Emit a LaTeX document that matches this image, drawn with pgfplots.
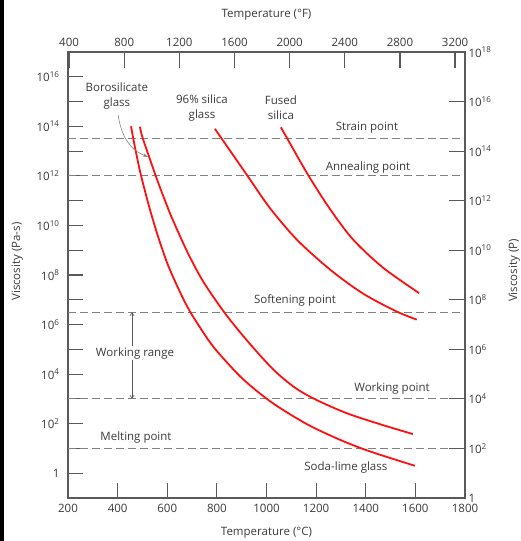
\documentclass[border=0pt]{standalone}
\usepackage{fontspec}
\setmainfont{Open Sans}
\usepackage{pgfplots}
\pgfplotsset{compat=1.18}
\usetikzlibrary{arrows.meta}
\definecolor{axgray}{HTML}{5A5A5A}
\definecolor{dashgray}{HTML}{808080}
\definecolor{txt}{HTML}{3A3A3A}
\definecolor{cred}{HTML}{FF1010}
\newcommand{\tp}[1]{10\textsuperscript{#1}}
\begin{document}
\begin{tikzpicture}
\path[use as bounding box] (-68pt,-43pt) rectangle (453pt,498pt);
\fill[black] (-68pt,-43pt) rectangle (-64pt,498pt);
\begin{axis}[
  scale only axis, width=397pt, height=446pt,
  at={(0pt,0pt)}, anchor=south west,
  xmin=200, xmax=1800, ymode=log, ymin=0.1, ymax=1e17,
  xtick={200,400,600,800,1000,1200,1400,1600,1800},
  xticklabels={200,400,600,800,1000,1200,1400,1600,1800},
  ytick={1,1e1,1e2,1e3,1e4,1e5,1e6,1e7,1e8,1e9,1e10,1e11,1e12,1e13,1e14,1e15,1e16},
  yticklabels={1,,\tp{2},,\tp{4},,\tp{6},,\tp{8},,\tp{10},,\tp{12},,\tp{14},,\tp{16}},
  xtick pos=left, ytick pos=left,
  tick align=inside, major tick length=15pt,
  minor tick style={draw=none},
  axis line style={axgray, line width=1.4pt},
  major tick style={axgray, line width=1.2pt},
  ticklabel style={font=\fontsize{11.5}{13}\selectfont, text=txt},
  xticklabel style={yshift=-3pt},
  yticklabel style={xshift=-5pt},
  xlabel={Temperature (°C)},
  ylabel={Viscosity (Pa-s)},
  label style={font=\fontsize{11.5}{13}\selectfont, text=txt},
  xlabel style={at={(axis description cs:0.5,-0.0785)}, anchor=center},
  ylabel style={at={(axis description cs:-0.128,0.53)}, anchor=center},
  clip=false,
]
% reference lines
\addplot[dashgray, line width=0.9pt, dash pattern=on 8pt off 4pt] coordinates {(200,3.16e13) (1800,3.16e13)};
\addplot[dashgray, line width=0.9pt, dash pattern=on 8pt off 4pt] coordinates {(200,1e12) (1800,1e12)};
\addplot[dashgray, line width=0.9pt, dash pattern=on 8pt off 4pt] coordinates {(200,3.16e6) (1800,3.16e6)};
\addplot[dashgray, line width=0.9pt, dash pattern=on 8pt off 4pt] coordinates {(200,1000) (1800,1000)};
\addplot[dashgray, line width=0.9pt, dash pattern=on 8pt off 4pt] coordinates {(200,10) (1800,10)};
% soda-lime glass
\addplot[cred, line width=1.8pt, smooth] coordinates {
(454,1e14) (470,1.41e13) (490,1.58e12) (510,2.51e11) (530,4.47e10) (563,3.55e9)
(603,2.51e8) (651,2.09e7) (692,3.31e6) (764,2.51e5) (813,6.03e4) (905,6.31e3)
(1022,708) (1163,95.5) (1296,22.4) (1417,7.59) (1598,2.0)};
% borosilicate glass
\addplot[cred, line width=1.8pt, smooth] coordinates {
(490,9.55e13) (502,3.16e13) (559,7.08e11) (595,7.94e10) (619,2.0e10) (680,8.91e8)
(744,5.62e7) (833,2.82e6) (922,2.24e5) (1026,1.58e4) (1115,2.82e3) (1203,891)
(1324,263) (1457,95.5) (1590,38)};
% 96% silica glass
\addplot[cred, line width=1.8pt, smooth] coordinates {
(792,7.94e13) (821,3.02e13) (925,9.55e11) (1014,5.01e10) (1123,2.63e9)
(1256,1.66e8) (1389,1.78e7) (1526,3.31e6) (1606,1.58e6)};
% fused silica
\addplot[cred, line width=1.8pt, smooth] coordinates {
(1058,9.12e13) (1083,3.31e13) (1167,1.12e12) (1256,4.57e10) (1349,2.69e9)
(1469,2.0e8) (1615,1.86e7)};
% annotations
\begin{scope}[every node/.style={font=\fontsize{11.5}{15.5}\selectfont, text=txt, align=center}]
\node at (axis cs:397,1.7e15) {Borosilicate\\glass};
\node at (axis cs:740,5.6e14) {96\% silica\\glass};
\node at (axis cs:1058,5.6e14) {Fused\\silica};
\node at (axis cs:1405,8.7e13) {Strain point};
\node at (axis cs:1409,2.1e12) {Annealing point};
\node at (axis cs:1115,9.8e6) {Softening point};
\node at (axis cs:1506,2.7e3) {Working point};
\node at (axis cs:474,28) {Melting point};
\node at (axis cs:1320,1.74) {Soda-lime glass};
\draw[axgray, line width=0.7pt, {Straight Barb[length=3pt,width=4pt]}-{Straight Barb[length=3pt,width=4pt]}] (axis cs:458,3.16e6) -- (axis cs:458,1000);
\node[fill=white, inner sep=1.5pt] at (axis cs:470,7.1e4) {Working range};
\end{scope}
\draw[gray, line width=0.6pt, -{Stealth[length=5pt,width=3.5pt]}] (axis cs:402,2.9e14) .. controls (axis cs:412,6e13) and (axis cs:440,1.2e13) .. (axis cs:522,5.9e12);
\end{axis}
\begin{axis}[
  scale only axis, width=397pt, height=446pt,
  at={(0pt,0pt)}, anchor=south west,
  xmin=392, xmax=3272, ymode=log, ymin=1, ymax=1e18,
  axis x line*=top, axis y line*=right,
  xtick={400,800,1200,1600,2000,2400,2800,3200},
  xticklabels={400,800,1200,1600,2000,2400,2800,3200},
  ytick={1,1e2,1e4,1e6,1e8,1e10,1e12,1e14,1e16,1e18},
  yticklabels={1,\tp{2},\tp{4},\tp{6},\tp{8},\tp{10},\tp{12},\tp{14},\tp{16},\tp{18}},
  tick align=inside, major tick length=16pt,
  minor tick style={draw=none},
  axis line style={axgray, line width=1.4pt},
  major tick style={axgray, line width=1.2pt},
  ticklabel style={font=\fontsize{11.5}{13}\selectfont, text=txt},
  xticklabel style={yshift=2pt},
  xlabel={Temperature (°F)},
  ylabel={Viscosity (P)},
  label style={font=\fontsize{11.5}{13}\selectfont, text=txt},
  xlabel style={at={(axis description cs:0.5,1.083)}, anchor=center},
  ylabel style={at={(axis description cs:1.124,0.51)}, anchor=center},
]
\addplot[draw=none] coordinates {(400,1)};
\end{axis}
\end{tikzpicture}
\end{document}
